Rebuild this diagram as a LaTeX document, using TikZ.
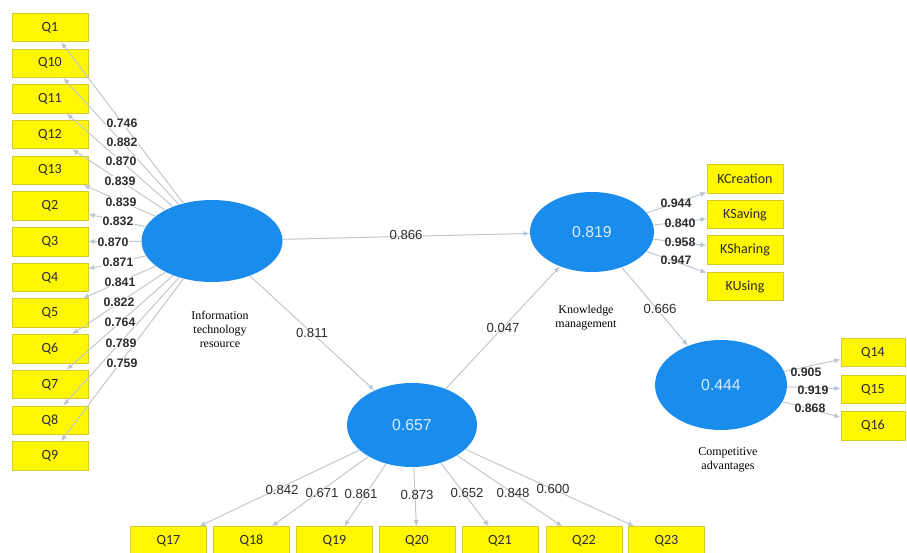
\documentclass[tikz,border=0pt]{standalone}
\usepackage{fontspec}
\setmainfont{Liberation Sans}
\newfontfamily\boxfont{Carlito}
\newfontfamily\capfont{Liberation Serif}
\usepackage{tikz}
\usetikzlibrary{shapes.geometric, arrows.meta, positioning}
\definecolor{myblue}{RGB}{26,140,236}
\definecolor{mylight}{RGB}{214,236,255}
\definecolor{myyellow}{RGB}{255,247,0}
\definecolor{myolive}{RGB}{214,204,40}
\definecolor{mygrey}{RGB}{190,198,208}
\definecolor{mydark}{RGB}{45,45,45}
\tikzset{
  latent/.style={ellipse, fill=myblue, draw=none, inner sep=0pt,
    font=\fontsize{9}{10}\selectfont, text=mylight},
  indicator/.style={rectangle, draw=myolive, fill=myyellow, line width=0.5pt,
    minimum width=1.52cm, minimum height=0.57cm, inner sep=0pt,
    font=\boxfont\fontsize{8}{9}\selectfont, text=mydark},
  loading/.style={inner sep=0pt, font=\fontsize{7.5}{8}\selectfont, text=mydark},
  boldload/.style={inner sep=0.3pt, font=\bfseries\fontsize{7}{8}\selectfont, text=mydark},
  caption/.style={inner sep=0pt, align=center, text=black,
    font=\capfont\fontsize{6.8}{8}\selectfont},
  arrow/.style={-{Latex[length=3.5pt,width=3pt]}, line width=0.55pt, color=mygrey}
}
\begin{document}
\begin{tikzpicture}[x=0.02cm, y=-0.02cm]
  \useasboundingbox (0,0) rectangle (907,553);

  % Constructs
  \node[latent, minimum width=2.82cm, minimum height=1.64cm] (it) at (212,241) {};
  \node[latent, minimum width=2.48cm, minimum height=1.6cm] (km) at (592,232) {0.819};
  \node[latent, minimum width=2.64cm, minimum height=1.8cm] (ca) at (721,385) {0.444};
  \node[latent, minimum width=2.6cm, minimum height=1.68cm] (med) at (412,425) {0.657};

  % Construct names
  \node[caption] (itname) at (220,329) {Information\\technology\\resource};
  \node[caption] (kmname) at (586,318) {Knowledge\\management};
  \node[caption] (caname) at (728,460) {Competitive\\advantages};

  % Indicators of information technology resource
  \node[indicator] (q1) at (50,27.5) {Q1};
  \node[indicator] (q10) at (50,63.2) {Q10};
  \node[indicator] (q11) at (50,98.9) {Q11};
  \node[indicator] (q12) at (50,134.6) {Q12};
  \node[indicator] (q13) at (50,170.3) {Q13};
  \node[indicator] (q2) at (50,206) {Q2};
  \node[indicator] (q3) at (50,241.7) {Q3};
  \node[indicator] (q4) at (50,277.4) {Q4};
  \node[indicator] (q5) at (50,313.1) {Q5};
  \node[indicator] (q6) at (50,348.8) {Q6};
  \node[indicator] (q7) at (50,384.5) {Q7};
  \node[indicator] (q8) at (50,420.2) {Q8};
  \node[indicator] (q9) at (50,455.9) {Q9};

  % Indicators of knowledge management
  \node[indicator] (kcre) at (745,179) {KCreation};
  \node[indicator] (ksav) at (745,214.5) {KSaving};
  \node[indicator] (kshr) at (745,250) {KSharing};
  \node[indicator] (kuse) at (745,286.5) {KUsing};

  % Indicators of competitive advantages
  \node[indicator, minimum width=1.28cm] (q14) at (873,352.5) {Q14};
  \node[indicator, minimum width=1.28cm] (q15) at (873,389.5) {Q15};
  \node[indicator, minimum width=1.28cm] (q16) at (873,426) {Q16};

  % Indicators of the lower construct
  \node[indicator] (q17) at (168.5,541) {Q17};
  \node[indicator] (q18) at (251.5,541) {Q18};
  \node[indicator] (q19) at (334.5,541) {Q19};
  \node[indicator] (q20) at (417,541) {Q20};
  \node[indicator] (q21) at (500,541) {Q21};
  \node[indicator] (q22) at (584,541) {Q22};
  \node[indicator] (q23) at (666.5,541) {Q23};

  % Outer paths
  \draw[arrow] (it) -- (q1);
  \draw[arrow] (it) -- (q10);
  \draw[arrow] (it) -- (q11);
  \draw[arrow] (it) -- (q12);
  \draw[arrow] (it) -- (q13);
  \draw[arrow] (it) -- (q2);
  \draw[arrow] (it) -- (q3);
  \draw[arrow] (it) -- (q4);
  \draw[arrow] (it) -- (q5);
  \draw[arrow] (it) -- (q6);
  \draw[arrow] (it) -- (q7);
  \draw[arrow] (it) -- (q8);
  \draw[arrow] (it) -- (q9);
  \draw[arrow] (km) -- (kcre);
  \draw[arrow] (km) -- (ksav);
  \draw[arrow] (km) -- (kshr);
  \draw[arrow] (km) -- (kuse);
  \draw[arrow] (ca) -- (q14);
  \draw[arrow] (ca) -- (q15);
  \draw[arrow] (ca) -- (q16);
  \draw[arrow] (med) -- (q17);
  \draw[arrow] (med) -- (q18);
  \draw[arrow] (med) -- (q19);
  \draw[arrow] (med) -- (q20);
  \draw[arrow] (med) -- (q21);
  \draw[arrow] (med) -- (q22);
  \draw[arrow] (med) -- (q23);

  % Inner paths
  \draw[arrow] (it) -- (km);
  \draw[arrow] (it) -- (med);
  \draw[arrow] (med) -- (km);
  \draw[arrow] (km) -- (ca);

  % Path coefficients
  \node[loading] (b1) at (406,235) {0.866};
  \node[loading] (b2) at (312,333) {0.811};
  \node[loading] (b3) at (503,328) {0.047};
  \node[loading] (b4) at (660,309) {0.666};

  % Loadings
  \node[boldload, fill=white] (l1) at (122,123) {0.746};
  \node[boldload, fill=white] (l10) at (122,142) {0.882};
  \node[boldload, fill=white] (l11) at (121,161) {0.870};
  \node[boldload, fill=white] (l12) at (120,181) {0.839};
  \node[boldload, fill=white] (l13) at (121,202) {0.839};
  \node[boldload, fill=white] (l2) at (118,221) {0.832};
  \node[boldload, fill=white] (l3) at (113,242) {0.870};
  \node[boldload, fill=white] (l4) at (118,262) {0.871};
  \node[boldload, fill=white] (l5) at (120,282) {0.841};
  \node[boldload, fill=white] (l6) at (119,302) {0.822};
  \node[boldload, fill=white] (l7) at (120,322) {0.764};
  \node[boldload, fill=white] (l8) at (121,343) {0.789};
  \node[boldload, fill=white] (l9) at (122,363) {0.759};
  \node[boldload] (lc) at (676,203) {0.944};
  \node[boldload] (ls) at (680,223) {0.840};
  \node[boldload] (lh) at (680,242) {0.958};
  \node[boldload] (lu) at (676,260) {0.947};
  \node[boldload] (l14) at (806,372) {0.905};
  \node[boldload] (l15) at (813,390) {0.919};
  \node[boldload] (l16) at (810,408) {0.868};
  \node[loading] (l17) at (282,490) {0.842};
  \node[loading] (l18) at (322,493) {0.671};
  \node[loading] (l19) at (361,494) {0.861};
  \node[loading] (l20) at (417,495) {0.873};
  \node[loading] (l21) at (467,493) {0.652};
  \node[loading] (l22) at (513,493) {0.848};
  \node[loading] (l23) at (553,489) {0.600};
\end{tikzpicture}
\end{document}
